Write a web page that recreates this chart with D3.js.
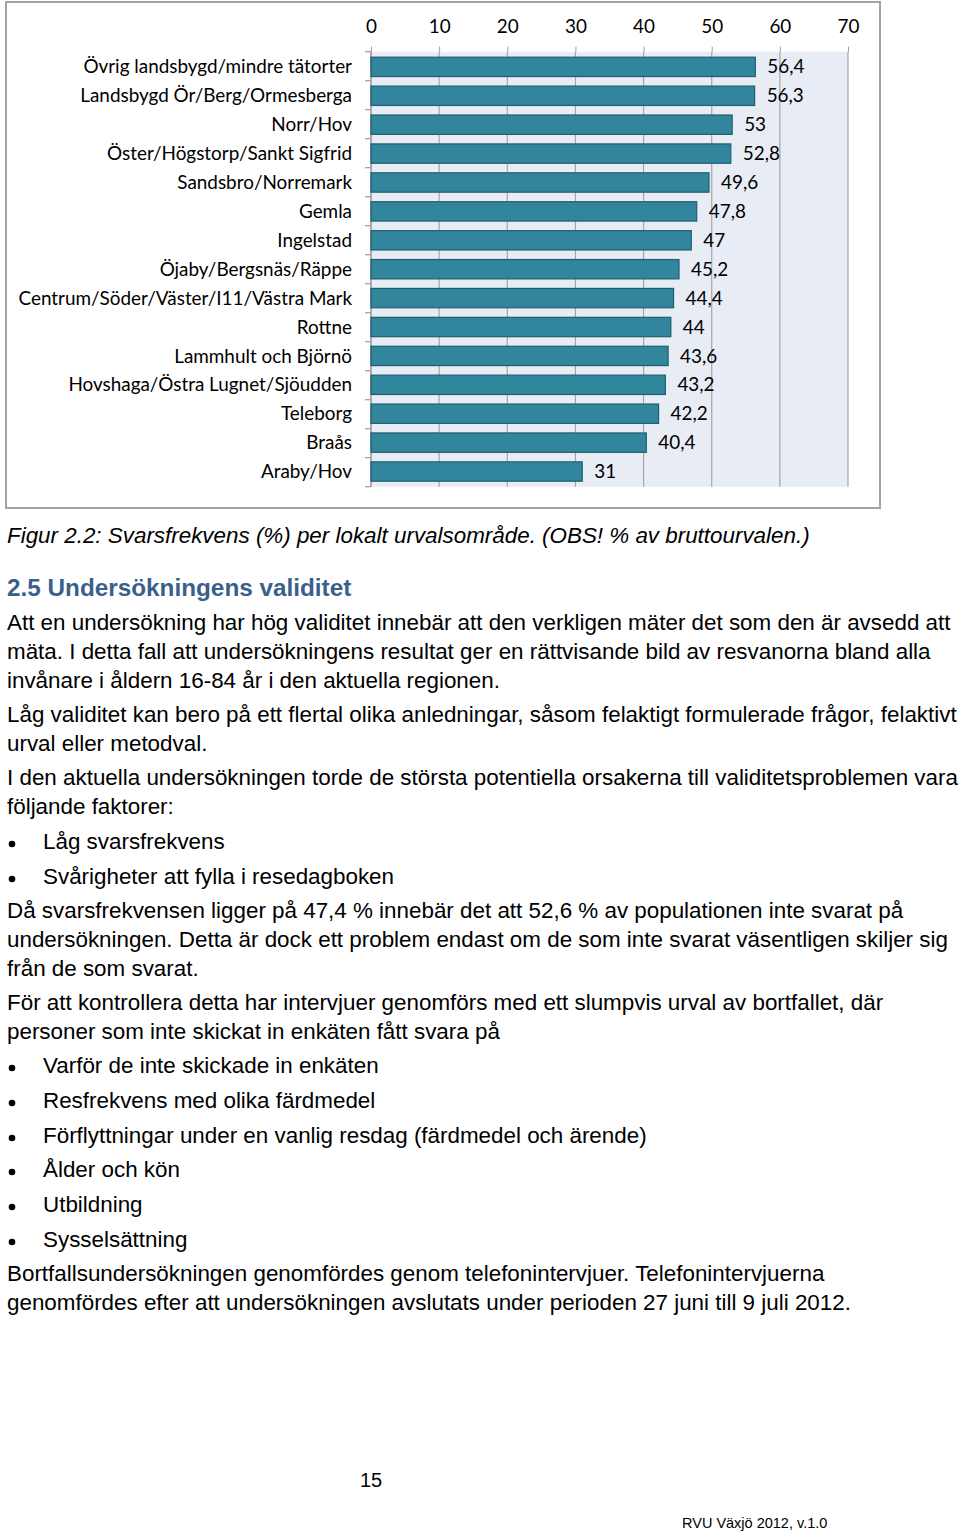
<!DOCTYPE html>
<html><head><meta charset="utf-8">
<script src="https://cdn.jsdelivr.net/npm/d3@7"></script>
<style>
html,body{margin:0;padding:0;background:#fff;}
svg{display:block;}
</style></head>
<body>
<svg id="page" width="960" height="1535"></svg>
<script>
// ---- chart data ----
const categories = [
  "Övrig landsbygd/mindre tätorter",
  "Landsbygd Ör/Berg/Ormesberga",
  "Norr/Hov",
  "Öster/Högstorp/Sankt Sigfrid",
  "Sandsbro/Norremark",
  "Gemla",
  "Ingelstad",
  "Öjaby/Bergsnäs/Räppe",
  "Centrum/Söder/Väster/I11/Västra Mark",
  "Rottne",
  "Lammhult och Björnö",
  "Hovshaga/Östra Lugnet/Sjöudden",
  "Teleborg",
  "Braås",
  "Araby/Hov"
];
const values = [56.4, 56.3, 53, 52.8, 49.6, 47.8, 47, 45.2, 44.4, 44, 43.6, 43.2, 42.2, 40.4, 31];
const tickValues = [0, 10, 20, 30, 40, 50, 60, 70];

// ---- page text ----
const caption = "Figur 2.2: Svarsfrekvens (%) per lokalt urvalsområde. (OBS! % av bruttourvalen.)";
const heading = "2.5 Undersökningens validitet";
const bodyLines = [
  {t:"Att en undersökning har hög validitet innebär att den verkligen mäter det som den är avsedd att", y:622},
  {t:"mäta. I detta fall att undersökningens resultat ger en rättvisande bild av resvanorna bland alla", y:651},
  {t:"invånare i åldern 16-84 år i den aktuella regionen.", y:680},
  {t:"Låg validitet kan bero på ett flertal olika anledningar, såsom felaktigt formulerade frågor, felaktivt", y:714},
  {t:"urval eller metodval.", y:743},
  {t:"I den aktuella undersökningen torde de största potentiella orsakerna till validitetsproblemen vara", y:777},
  {t:"följande faktorer:", y:806},
  {t:"Låg svarsfrekvens", y:841, b:true},
  {t:"Svårigheter att fylla i resedagboken", y:876, b:true},
  {t:"Då svarsfrekvensen ligger på 47,4 % innebär det att 52,6 % av populationen inte svarat på", y:910},
  {t:"undersökningen. Detta är dock ett problem endast om de som inte svarat väsentligen skiljer sig", y:939},
  {t:"från de som svarat.", y:968},
  {t:"För att kontrollera detta har intervjuer genomförs med ett slumpvis urval av bortfallet, där", y:1002},
  {t:"personer som inte skickat in enkäten fått svara på", y:1031},
  {t:"Varför de inte skickade in enkäten", y:1065, b:true},
  {t:"Resfrekvens med olika färdmedel", y:1100, b:true},
  {t:"Förflyttningar under en vanlig resdag (färdmedel och ärende)", y:1135, b:true},
  {t:"Ålder och kön", y:1169, b:true},
  {t:"Utbildning", y:1204, b:true},
  {t:"Sysselsättning", y:1239, b:true},
  {t:"Bortfallsundersökningen genomfördes genom telefonintervjuer. Telefonintervjuerna", y:1273},
  {t:"genomfördes efter att undersökningen avslutats under perioden 27 juni till 9 juli 2012.", y:1302}
];
const pageNumber = "15";
const footer = "RVU Växjö 2012, v.1.0";

const svg = d3.select("#page");
svg.append("rect").attr("width",960).attr("height",1535).attr("fill","#fff");

// chart frame
svg.append("rect").attr("x",6).attr("y",2).attr("width",874).attr("height",506)
  .attr("fill","#fff").attr("stroke","#a3a3a3").attr("stroke-width",2);

const chartFont = "Lato, 'Open Sans', sans-serif";
const chartSize = 18.9;
const x = d3.scaleLinear().domain([0,70]).range([371,848]);
const y = d3.scaleBand().domain(categories).range([51.7,486.7]).paddingInner(0.33).paddingOuter(0.19);
const fmt = d3.formatLocale({decimal:",", thousands:" ", grouping:[3], currency:["","kr"]}).format(".3~g");

const g = svg.append("g");
// plot background
g.append("rect").attr("x",x(0)).attr("y",y.range()[0]).attr("width",x(70)-x(0))
  .attr("height",y.range()[1]-y.range()[0]).attr("fill","#e8ecf5");

// top axis with gridlines
const xAxis = d3.axisTop(x).tickValues(tickValues).tickSize(5).tickPadding(14).tickFormat(d3.format("d"));
const ax = g.append("g").attr("transform",`translate(0,${y.range()[0]})`).call(xAxis);
ax.select(".domain").remove();
ax.selectAll("line").attr("stroke","#9c9c9c");
ax.selectAll("text").attr("font-family",chartFont).attr("font-size",chartSize).attr("fill","#000");

g.append("g").selectAll("line").data(tickValues).join("line")
  .attr("x1",d=>x(d)).attr("x2",d=>x(d))
  .attr("y1",y.range()[0]).attr("y2",y.range()[1])
  .attr("stroke","#a6a6a6").attr("stroke-width",1.2);

// left axis: line + ticks at category boundaries
const bounds = d3.range(categories.length+1).map(i => y.range()[0] + i*(y.range()[1]-y.range()[0])/categories.length);
g.append("line").attr("x1",x(0)).attr("x2",x(0)).attr("y1",y.range()[0]).attr("y2",y.range()[1])
  .attr("stroke","#9c9c9c").attr("stroke-width",1.2);
g.append("g").selectAll("line").data(bounds).join("line")
  .attr("x1",x(0)-6).attr("x2",x(0)).attr("y1",d=>d).attr("y2",d=>d)
  .attr("stroke","#9c9c9c").attr("stroke-width",1.2);

// category labels
g.append("g").selectAll("text").data(categories).join("text")
  .attr("x",352).attr("y",d=>y(d)+y.bandwidth()/2)
  .attr("dy","0.35em").attr("text-anchor","end")
  .attr("font-family",chartFont).attr("font-size",chartSize).attr("fill","#000")
  .text(d=>d);

// bars
g.append("g").selectAll("rect").data(values).join("rect")
  .attr("x",x(0)).attr("y",(d,i)=>y(categories[i]))
  .attr("width",d=>x(d)-x(0)).attr("height",y.bandwidth())
  .attr("fill","#31859c").attr("stroke","#215e6f").attr("stroke-width",1.2);

// value labels
g.append("g").selectAll("text").data(values).join("text")
  .attr("x",d=>x(d)+12).attr("y",(d,i)=>y(categories[i])+y.bandwidth()/2)
  .attr("dy","0.35em")
  .attr("font-family",chartFont).attr("font-size",chartSize).attr("fill","#000")
  .text(d=>fmt(d));

// ---- page text ----
const bodyFont = "'Liberation Sans', Arial, sans-serif";
const bodySize = 22.4;
svg.append("text").attr("x",7).attr("y",543).attr("font-family",bodyFont).attr("font-style","italic")
  .attr("font-size",bodySize).attr("fill","#000").text(caption);
svg.append("text").attr("x",7).attr("y",596).attr("font-family",bodyFont).attr("font-weight","bold")
  .attr("font-size",24.3).attr("fill","#3a5f8c").text(heading);

const body = svg.append("g");
body.selectAll("text").data(bodyLines).join("text")
  .attr("x",d=>d.b?43:7).attr("y",d=>d.y+7.5)
  .attr("font-family",bodyFont).attr("font-size",bodySize).attr("fill","#000")
  .text(d=>d.t);
body.selectAll("circle").data(bodyLines.filter(d=>d.b)).join("circle")
  .attr("cx",12).attr("cy",d=>d.y+3).attr("r",3.3).attr("fill","#000");

svg.append("text").attr("x",360).attr("y",1487).attr("font-family",bodyFont)
  .attr("font-size",20).attr("fill","#000").text(pageNumber);
svg.append("text").attr("x",682).attr("y",1528).attr("font-family",bodyFont)
  .attr("font-size",14.5).attr("fill","#000").text(footer);
</script>
</body></html>
